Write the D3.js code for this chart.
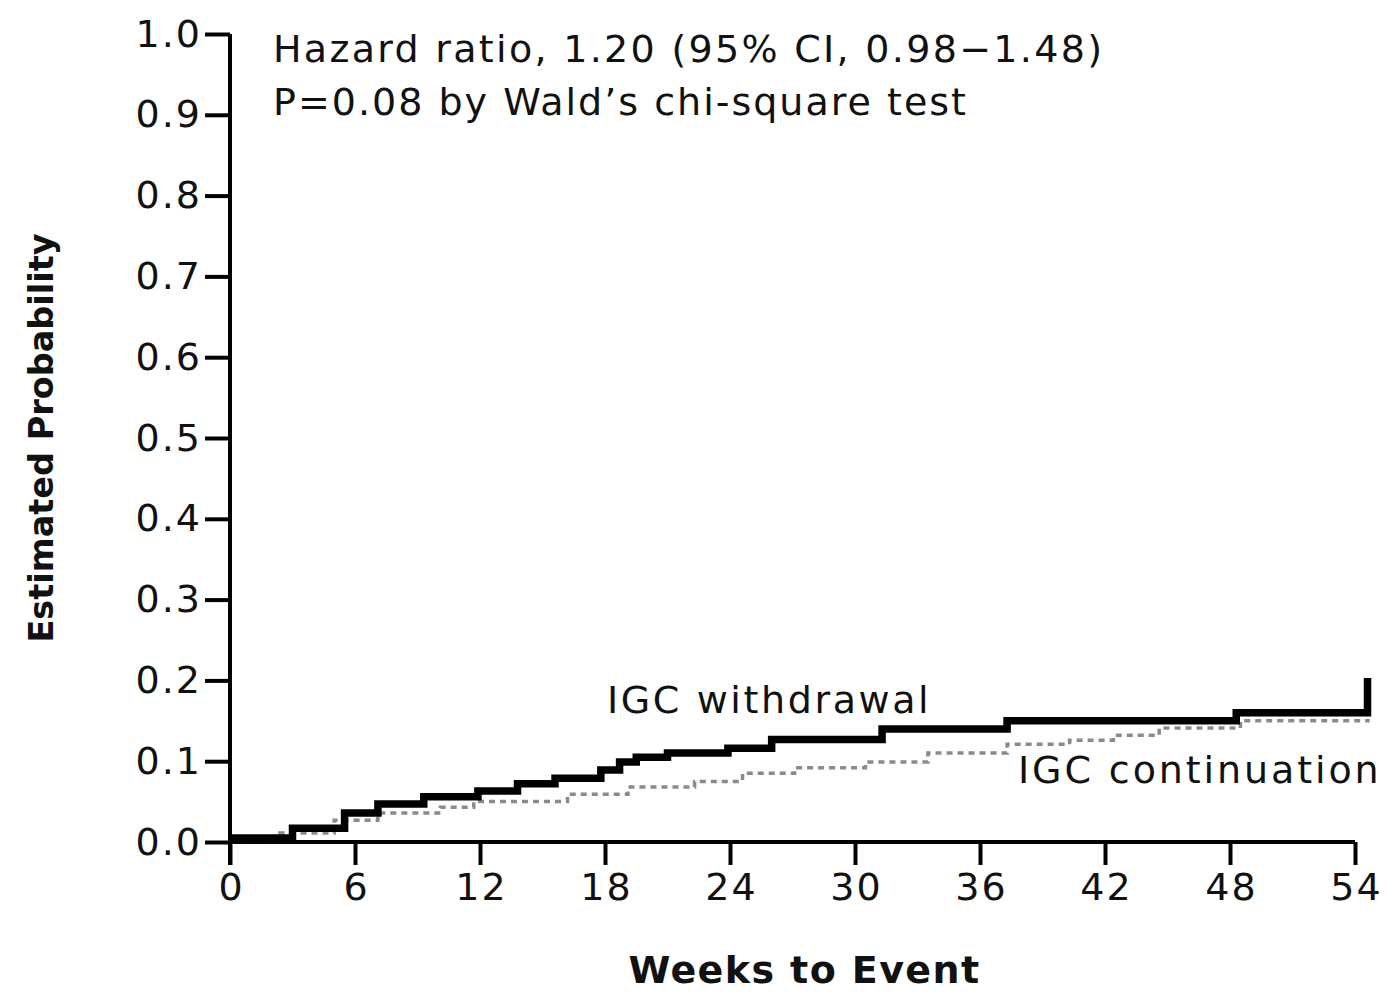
<!DOCTYPE html>
<html>
<head>
<meta charset="utf-8">
<script src="https://cdnjs.cloudflare.com/ajax/libs/d3/7.8.5/d3.min.js"></script>
<style>
  body { margin: 0; background: #fff; }
  text { font-family: "DejaVu Sans", sans-serif; fill: #111; }
</style>
</head>
<body>
<div id="chart"></div>
<script>
// x ticks / y ticks
var weekTicks = [0, 6, 12, 18, 24, 30, 36, 42, 48, 54];
var probTicks = [0, 0.1, 0.2, 0.3, 0.4, 0.5, 0.6, 0.7, 0.8, 0.9, 1.0];

// IGC withdrawal (solid black step curve)
var withdrawalWeeks = [0, 3.0, 5.5, 7.1, 9.3, 11.9, 13.8, 15.6, 17.8, 18.7, 19.5, 21.0, 23.9, 26.0, 31.3, 37.3, 48.3, 54.6];
var withdrawalProb  = [0.005, 0.017, 0.036, 0.047, 0.056, 0.063, 0.072, 0.079, 0.089, 0.099, 0.105, 0.110, 0.116, 0.127, 0.140, 0.150, 0.160, 0.203];

// IGC continuation (dotted grey step curve)
var continuationWeeks = [0, 2.4, 5.0, 7.1, 10.1, 11.7, 16.2, 19.1, 22.3, 24.6, 27.1, 30.5, 33.5, 37.3, 40.3, 42.4, 44.6, 48.5, 54.7];
var continuationProb  = [0.003, 0.011, 0.027, 0.036, 0.043, 0.050, 0.059, 0.068, 0.075, 0.085, 0.092, 0.099, 0.110, 0.121, 0.126, 0.132, 0.141, 0.150, 0.150];

var margin = {top: 34, right: 38, bottom: 152, left: 230},
    width = 1393 - margin.left - margin.right,
    height = 994 - margin.top - margin.bottom;

var svg = d3.select("#chart").append("svg")
    .attr("width", 1393)
    .attr("height", 994)
  .append("g")
    .attr("transform", "translate(" + margin.left + "," + margin.top + ")");

var x = d3.scaleLinear().domain([0, 54]).range([0, 1125]);
var y = d3.scaleLinear().domain([0, 1]).range([height, 0]);

// axes
var xAxis = svg.append("g")
    .attr("transform", "translate(0," + height + ")")
    .call(d3.axisBottom(x).tickValues(weekTicks).tickSize(23).tickSizeOuter(0).tickPadding(8));

var yAxis = svg.append("g")
    .call(d3.axisLeft(y).tickValues(probTicks).tickSize(25).tickSizeOuter(0).tickPadding(5)
      .tickFormat(d3.format(".1f")));

[xAxis, yAxis].forEach(function (g) {
  g.selectAll("path.domain, line").attr("stroke", "#000").attr("stroke-width", 4);
  g.selectAll("text").style("font-size", "38px").style("letter-spacing", "2px").attr("fill", "#111");
});
xAxis.selectAll("text").attr("dx", "1px");
yAxis.selectAll("text").attr("dx", "2px");
xAxis.select("path.domain").attr("d", "M0,0H1125");
yAxis.select("path.domain").attr("d", "M0," + (height + 23) + "V0");

// step curves
var line = d3.line()
    .x(d => x(d[0]))
    .y(d => y(d[1]))
    .curve(d3.curveStepAfter);

svg.append("path")
    .datum(d3.zip(continuationWeeks, continuationProb))
    .attr("fill", "none")
    .attr("stroke", "#8a8a8a")
    .attr("stroke-width", 3.5)
    .attr("stroke-dasharray", "6,5")
    .attr("d", line);

svg.append("path")
    .datum(d3.zip(withdrawalWeeks, withdrawalProb))
    .attr("fill", "none")
    .attr("stroke", "#000")
    .attr("stroke-width", 7.5)
    .attr("stroke-linejoin", "miter")
    .attr("d", line);

// labels
svg.append("text")
    .attr("x", 607 - margin.left).attr("y", 713 - margin.top)
    .style("font-size", "38px").style("letter-spacing", "2.6px")
    .text("IGC withdrawal");

svg.append("text")
    .attr("x", 1018 - margin.left).attr("y", 783 - margin.top)
    .style("font-size", "38px").style("letter-spacing", "2.9px")
    .text("IGC continuation");

svg.append("text")
    .attr("x", 273 - margin.left).attr("y", 62 - margin.top)
    .style("font-size", "38px").style("letter-spacing", "2.3px")
    .text("Hazard ratio, 1.20 (95% CI, 0.98\u22121.48)");

svg.append("text")
    .attr("x", 273 - margin.left).attr("y", 115 - margin.top)
    .style("font-size", "38px").style("letter-spacing", "2px")
    .text("P=0.08 by Wald\u2019s chi-square test");

// axis titles
svg.append("text")
    .attr("x", x(27) + 12).attr("y", 983 - margin.top)
    .attr("text-anchor", "middle")
    .style("font-size", "38px").style("font-weight", "bold").style("letter-spacing", "1.4px")
    .text("Weeks to Event");

svg.append("text")
    .attr("transform", "translate(" + (53 - margin.left) + "," + (height / 2) + ") rotate(-90)")
    .attr("text-anchor", "middle")
    .style("font-size", "33.5px").style("font-weight", "bold")
    .text("Estimated Probability");
</script>
</body>
</html>
